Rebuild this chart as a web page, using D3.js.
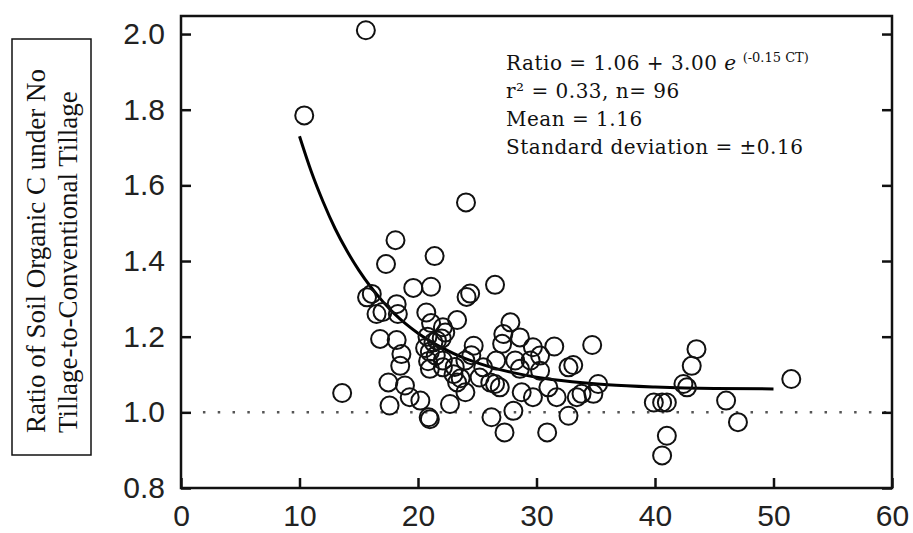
<!DOCTYPE html>
<meta charset="utf-8">
<script src="https://cdn.jsdelivr.net/npm/d3@7"></script>
<style>
  body { margin: 0; background: #fff; }
</style>
<div id="chart"></div>
<script>
var years = [15.6, 10.4, 24.05, 18.1, 17.3, 21.4, 26.5, 19.6, 21.1, 24.1, 24.4, 15.7, 16.1, 18.2, 16.5, 17.0,
  18.3, 20.7, 16.8, 18.2, 18.6, 18.5, 22.1, 23.3, 13.6, 17.5, 17.6, 18.9, 19.3, 20.2, 20.9, 21.0, 21.0, 22.7,
  21.1, 20.8, 21.3, 20.6, 21.6, 21.0, 22.0, 21.5, 20.85, 22.1, 22.3, 22.1, 23.0, 23.3, 23.1, 23.6, 24.0, 24.0,
  24.5, 24.7, 25.5, 25.2, 26.1, 26.5, 26.9, 26.2, 27.3, 28.05, 26.6, 27.1, 27.2, 27.8, 28.6, 28.2, 29.5, 29.7,
  30.3, 28.6, 30.3, 28.75, 29.7, 31.0, 31.7, 30.9, 31.5, 32.7, 33.1, 32.7, 33.4, 33.8, 34.8, 35.2, 34.7, 39.9,
  40.6, 41.0, 41.0, 40.6, 42.4, 42.7, 43.1, 43.5, 46.0, 47.0, 51.5];
var ratios = [2.01, 1.785, 1.555, 1.455, 1.392, 1.413, 1.337, 1.329, 1.332, 1.305, 1.314, 1.304, 1.313, 1.286, 1.26, 1.265,
  1.26, 1.264, 1.194, 1.191, 1.154, 1.123, 1.225, 1.244, 1.051, 1.079, 1.018, 1.071, 1.04, 1.031, 0.987, 0.982, 1.115, 1.022,
  1.236, 1.2, 1.185, 1.17, 1.19, 1.16, 1.195, 1.15, 1.135, 1.137, 1.211, 1.119, 1.101, 1.079, 1.12, 1.09, 1.053, 1.137,
  1.151, 1.176, 1.119, 1.092, 1.079, 1.075, 1.066, 0.987, 0.947, 1.004, 1.137, 1.181, 1.207, 1.238, 1.198, 1.137, 1.137, 1.172,
  1.15, 1.115, 1.11, 1.053, 1.04, 1.066, 1.04, 0.947, 1.174, 1.119, 1.125, 0.991, 1.04, 1.049, 1.049, 1.075, 1.178, 1.026,
  1.026, 1.026, 0.938, 0.886, 1.075, 1.066, 1.123, 1.167, 1.031, 0.974, 1.088];

// fitted curve
var fitX = [10, 11, 12, 13, 14, 15, 16, 17, 18, 19, 20, 22, 24, 26, 28, 30, 33, 36, 40, 45, 50];
var fitY = [1.73, 1.636, 1.556, 1.486, 1.427, 1.376, 1.332, 1.294, 1.261, 1.233, 1.209, 1.171, 1.142, 1.121, 1.105, 1.093, 1.081, 1.073, 1.067, 1.063, 1.062];

var xTicks = [0, 10, 20, 30, 40, 50, 60];
var yTicks = [0.8, 1.0, 1.2, 1.4, 1.6, 1.8, 2.0];

var statLines = ["r\u00b2 = 0.33, n= 96", "Mean = 1.16", "Standard deviation = \u00b10.16"];
var yTitle = ["Ratio of Soil Organic C under No", "Tillage-to-Conventional Tillage"];

var W = 913, H = 533;
var margin = {top: 16, right: 21, bottom: 45, left: 181};

var svg = d3.select("#chart").append("svg")
    .attr("width", W)
    .attr("height", H);

var x = d3.scaleLinear().domain([0, 60]).range([margin.left, W - margin.right]);
var y = d3.scaleLinear().domain([0.8, 2.0477]).range([H - margin.bottom, margin.top]);

// reference line at 1.0
svg.append("line")
    .attr("x1", x(1.85)).attr("x2", x(60))
    .attr("y1", y(1)).attr("y2", y(1))
    .attr("stroke", "#555")
    .attr("stroke-width", 2.5)
    .attr("stroke-dasharray", "2.5,12.3");

// axes with inward ticks
var axisFont = "'Liberation Sans', Arial, sans-serif";

var gx = svg.append("g")
    .attr("transform", "translate(0," + y.range()[0] + ")")
    .call(d3.axisBottom(x).tickValues(xTicks).tickSize(-10).tickPadding(17).tickFormat(d3.format("d")));
var gy = svg.append("g")
    .attr("transform", "translate(" + x.range()[0] + ",0)")
    .call(d3.axisLeft(y).tickValues(yTicks).tickSize(-10).tickPadding(16).tickFormat(d3.format(".1f")));
var gr = svg.append("g")
    .attr("transform", "translate(" + x.range()[1] + ",0)")
    .call(d3.axisRight(y).tickValues(yTicks).tickSize(-10).tickFormat(""));

[gx, gy, gr].forEach(function(g) {
  g.select(".domain").remove();
  g.selectAll(".tick line").attr("stroke", "#111").attr("stroke-width", 2.5);
  g.selectAll("text").attr("font-family", axisFont).attr("font-size", 30).attr("fill", "#222");
});

// frame
svg.append("rect")
    .attr("x", x(0)).attr("y", y.range()[1])
    .attr("width", x(60) - x(0))
    .attr("height", y.range()[0] - y.range()[1])
    .attr("fill", "none")
    .attr("stroke", "#111")
    .attr("stroke-width", 2.5);

// fitted curve
svg.append("path")
    .datum(fitX.map(function(d, i) { return [d, fitY[i]]; }))
    .attr("fill", "none")
    .attr("stroke", "#000")
    .attr("stroke-width", 3)
    .attr("d", d3.line()
      .x(function(d) { return x(d[0]); })
      .y(function(d) { return y(d[1]); })
      .curve(d3.curveMonotoneX));

// points
svg.append("g").selectAll("circle")
    .data(years.map(function(d, i) { return [d, ratios[i]]; }))
    .enter().append("circle")
      .attr("cx", function(d) { return x(d[0]); })
      .attr("cy", function(d) { return y(d[1]); })
      .attr("r", 9)
      .attr("fill", "none")
      .attr("stroke", "#111")
      .attr("stroke-width", 2);

// equation and stats
var note = svg.append("g")
    .attr("font-family", "'DejaVu Serif', Georgia, serif")
    .attr("font-size", 20)
    .attr("letter-spacing", 0.5)
    .attr("fill", "#111");

var eq = note.append("text").attr("x", 506).attr("y", 70);
eq.append("tspan").text("Ratio = 1.06 + 3.00 ");
eq.append("tspan").attr("font-style", "italic").text("e");
eq.append("tspan").attr("font-size", 13).attr("letter-spacing", 0).attr("dx", 6).attr("dy", -8).text("(-0.15 CT)");

note.selectAll("text.stat")
    .data(statLines)
    .enter().append("text")
      .attr("class", "stat")
      .attr("x", 506)
      .attr("y", function(d, i) { return 98 + i * 28; })
      .text(function(d) { return d; });

// boxed y title
svg.append("rect")
    .attr("x", 12).attr("y", 39)
    .attr("width", 79).attr("height", 416)
    .attr("fill", "none")
    .attr("stroke", "#111")
    .attr("stroke-width", 1.5);

svg.append("g")
    .attr("font-family", "'Liberation Serif', 'Times New Roman', serif")
    .attr("font-size", 27)
    .attr("fill", "#111")
  .selectAll("text")
  .data(yTitle)
  .enter().append("text")
    .attr("transform", function(d, i) { return "translate(" + (45 + i * 32) + ",433) rotate(-90)"; })
    .text(function(d) { return d; });
</script>
